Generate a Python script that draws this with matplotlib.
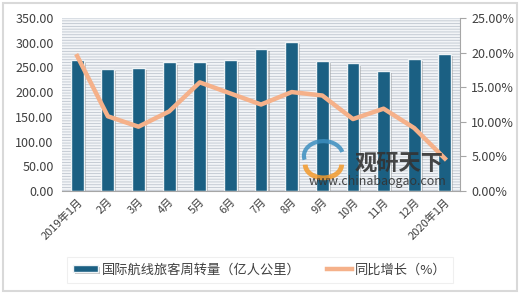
import matplotlib
matplotlib.use("Agg")
import matplotlib.pyplot as plt
import matplotlib.patheffects as pe
from matplotlib.patches import Rectangle, Arc
from matplotlib.ticker import FuncFormatter, MultipleLocator

plt.rcParams['font.family'] = ['Noto Sans CJK SC', 'DejaVu Sans']
plt.rcParams['hatch.linewidth'] = 0.6

categories = ['2019年1月', '2月', '3月', '4月', '5月', '6月', '7月', '8月',
              '9月', '10月', '11月', '12月', '2020年1月']
volume = [264, 247, 249, 260, 260, 265, 288, 302, 263, 258, 243, 268, 277]
growth = [19.5, 10.8, 9.3, 11.5, 15.7, 14.1, 12.5, 14.3, 13.8, 10.4, 11.9, 9.1, 4.7]

bar_color = '#1b6083'
line_color = '#f5b18a'
text_color = '#404040'

fig = plt.figure(figsize=(5.2, 2.94), dpi=100)
fig.patch.set_facecolor('white')
fig.add_artist(Rectangle((0.006, 0.01), 0.988, 0.98, transform=fig.transFigure,
                         facecolor='none', edgecolor='#d9d9d9', linewidth=1.5))

ax = fig.add_axes([0.119, 0.350, 0.766, 0.589])
ax.set_facecolor('#f2f4f7')
ax.add_patch(Rectangle((0, 0), 1, 1, transform=ax.transAxes, facecolor='#f2f4f7',
                       hatch='------', edgecolor='#bfc6cf', linewidth=0, zorder=0))

x = list(range(len(categories)))
bars = ax.bar(x, volume, width=0.42, color=bar_color, edgecolor='#eef3f6', linewidth=1.0,
              zorder=2, label='国际航线旅客周转量（亿人公里）')
for b in bars:
    b.set_path_effects([pe.SimplePatchShadow(offset=(1.5, -1.5), shadow_rgbFace='#7a7a7a', alpha=0.45),
                        pe.Normal()])

ax.set_xlim(-0.5, len(categories) - 0.5)
ax.set_ylim(0, 350)
ax.yaxis.set_major_locator(MultipleLocator(50))
ax.yaxis.set_major_formatter(FuncFormatter(lambda v, p: f'{v:.2f}'))
ax.set_xticks(x)
ax.set_xticklabels(categories, rotation=45, ha='right', rotation_mode='anchor')
ax.tick_params(axis='x', length=0, labelsize=8, colors=text_color, pad=4)
ax.tick_params(axis='y', length=0, labelsize=9, colors=text_color, pad=6)
for s in ['left', 'top', 'right']:
    ax.spines[s].set_visible(False)
ax.spines['bottom'].set_color('#a6a6a6')

ax2 = ax.twinx()
ax2.plot(x, growth, color=line_color, linewidth=3.2, zorder=3, label='同比增长（%）',
         solid_joinstyle='round')
ax2.set_ylim(0, 25)
ax2.yaxis.set_major_locator(MultipleLocator(5))
ax2.yaxis.set_major_formatter(FuncFormatter(lambda v, p: f'{v:.2f}%'))
ax2.tick_params(axis='y', length=4, color='#a6a6a6', labelsize=9, colors=text_color, pad=4)
for s in ['left', 'top', 'bottom']:
    ax2.spines[s].set_visible(False)
ax2.spines['right'].set_color('#a6a6a6')

# watermark
fig.add_artist(Arc((0.622, 0.47), 0.075, 0.10, theta1=20, theta2=200, transform=fig.transFigure,
                   color='#3d8fc0', linewidth=3, alpha=0.85))
fig.add_artist(Arc((0.622, 0.44), 0.07, 0.09, theta1=180, theta2=360, transform=fig.transFigure,
                   color='#f39a2b', linewidth=3.5, alpha=0.85))
fig.text(0.767, 0.446, '观研天下', fontsize=16, fontweight='bold', color='#333333',
         ha='center', va='center', alpha=0.9)
fig.text(0.726, 0.384, 'www.chinabaogao.com', fontsize=9, color='#333333',
         ha='center', va='center', alpha=0.9)

h1, l1 = ax.get_legend_handles_labels()
h2, l2 = ax2.get_legend_handles_labels()
leg = fig.legend(h1 + h2, l1 + l2, loc='center', bbox_to_anchor=(0.5, 0.082), ncol=2,
                 fontsize=9.5, frameon=True, fancybox=False, shadow=False,
                 handlelength=1.9, handleheight=0.45, handletextpad=0.25,
                 columnspacing=2.0, borderpad=0.5)
leg.get_frame().set_edgecolor('#ececec')
leg.get_frame().set_linewidth(0.8)
for t in leg.get_texts():
    t.set_color(text_color)

fig.savefig('out.png', dpi=100, facecolor='white')
